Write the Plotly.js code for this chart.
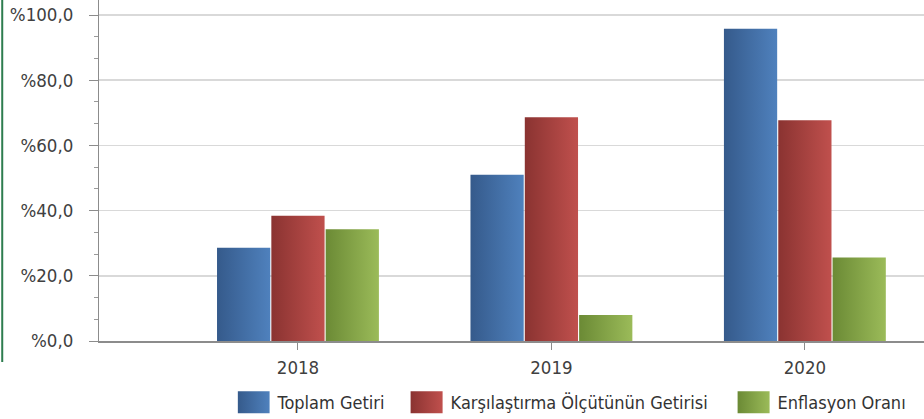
<!DOCTYPE html>
<html>
<head>
<meta charset="utf-8">
<script src="https://cdn.plot.ly/plotly-3.0.1.min.js"></script>
<style>
html,body{margin:0;padding:0;background:#fff;}
#chart{width:924px;height:419px;}
</style>
</head>
<body>
<div id="chart"></div>
<script>
const categories = ["2018", "2019", "2020"];
const seriesNames = ["Toplam Getiri", "Karşılaştırma Ölçütünün Getirisi", "Enflasyon Oranı"];
const toplamGetiri = [28.6, 51.0, 95.8];
const karsilastirmaGetirisi = [38.4, 68.6, 67.7];
const enflasyonOrani = [34.3, 8.0, 25.6];
const yTickVals = [0, 20, 40, 60, 80, 100];
const yTickText = ["%0,0", "%20,0", "%40,0", "%60,0", "%80,0", "%100,0"];

const seriesValues = [toplamGetiri, karsilastirmaGetirisi, enflasyonOrani];
const baseColors = ["#4672a8", "#a84340", "#84a448"];
const gradStops = [["#355a8b", "#4f81bd"], ["#8a3331", "#c0504d"], ["#6b8a35", "#9bbb59"]];
const legendWidths = [128, 282, 135];

const FONT = "'DejaVu Sans Condensed', 'DejaVu Sans', sans-serif";

const traces = seriesValues.map((vals, i) => ({
  type: "bar",
  name: seriesNames[i],
  x: categories,
  y: vals,
  marker: {color: baseColors[i], line: {width: 0}},
  legendwidth: legendWidths[i],
  hoverinfo: "skip"
}));

const layout = {
  width: 924,
  height: 419,
  margin: {l: 99, r: 0, t: 0, b: 78},
  paper_bgcolor: "#ffffff",
  plot_bgcolor: "#ffffff",
  barmode: "group",
  bargap: 0.357,
  bargroupgap: 0.02,
  showlegend: true,
  legend: {
    orientation: "h",
    x: 0.168, xanchor: "left",
    yref: "container",
    y: 0.0835, yanchor: "top",
    font: {family: FONT, size: 18, color: "#333333"},
    bgcolor: "rgba(0,0,0,0)"
  },
  xaxis: {
    type: "category",
    range: [-0.785, 2.47],
    showgrid: false,
    showline: true,
    linecolor: "#8c8c8c",
    linewidth: 1.5,
    ticks: "outside",
    ticklen: 7,
    tickcolor: "#8c8c8c",
    tickwidth: 1,
    ticklabelstandoff: 2,
    tickfont: {family: FONT, size: 18.5, color: "#404040"},
    zeroline: false,
    fixedrange: true
  },
  yaxis: {
    range: [0, 104.6],
    tickvals: yTickVals,
    ticktext: yTickText,
    showgrid: true,
    gridcolor: "#d9d9d9",
    gridwidth: 1.5,
    showline: true,
    linecolor: "#8c8c8c",
    linewidth: 1,
    ticks: "outside",
    ticklen: 9,
    tickcolor: "#8c8c8c",
    tickwidth: 1,
    ticklabelstandoff: 12,
    minor: {dtick: 20 / 3, tick0: 0, ticks: "outside", ticklen: 4, tickcolor: "#9a9a9a", showgrid: false},
    tickfont: {family: FONT, size: 18.5, color: "#404040"},
    zeroline: false,
    fixedrange: true
  },
  shapes: [{
    type: "line", xref: "paper", yref: "paper",
    x0: -0.1173, x1: -0.1173, y0: 1, y1: -0.0616,
    line: {color: "#2e7d4f", width: 2}
  }]
};

Plotly.newPlot("chart", traces, layout, {displayModeBar: false, staticPlot: true}).then(gd => {
  const svg = gd.querySelector("svg.main-svg");
  const ns = "http://www.w3.org/2000/svg";
  let defs = svg.querySelector("defs");
  if (!defs) { defs = document.createElementNS(ns, "defs"); svg.insertBefore(defs, svg.firstChild); }
  gradStops.forEach((st, i) => {
    const lg = document.createElementNS(ns, "linearGradient");
    lg.setAttribute("id", "bargrad" + i);
    lg.setAttribute("x1", "0"); lg.setAttribute("y1", "0");
    lg.setAttribute("x2", "1"); lg.setAttribute("y2", "0");
    [[0, st[0]], [1, st[1]]].forEach(([o, c]) => {
      const s = document.createElementNS(ns, "stop");
      s.setAttribute("offset", o); s.setAttribute("stop-color", c);
      lg.appendChild(s);
    });
    defs.appendChild(lg);
  });
  gd.querySelectorAll(".barlayer .trace.bars").forEach((tr, i) => {
    tr.querySelectorAll("path").forEach(p => { p.style.fill = "url(#bargrad" + i + ")"; });
  });
  gd.querySelectorAll(".legend .traces").forEach((tr, i) => {
    tr.querySelectorAll(".legendpoints path").forEach(p => {
      p.setAttribute("d", "M12,11H-20V-11H12Z");
      p.style.fill = "url(#bargrad" + i + ")";
      p.style.stroke = "none";
    });
  });
});
</script>
</body>
</html>
